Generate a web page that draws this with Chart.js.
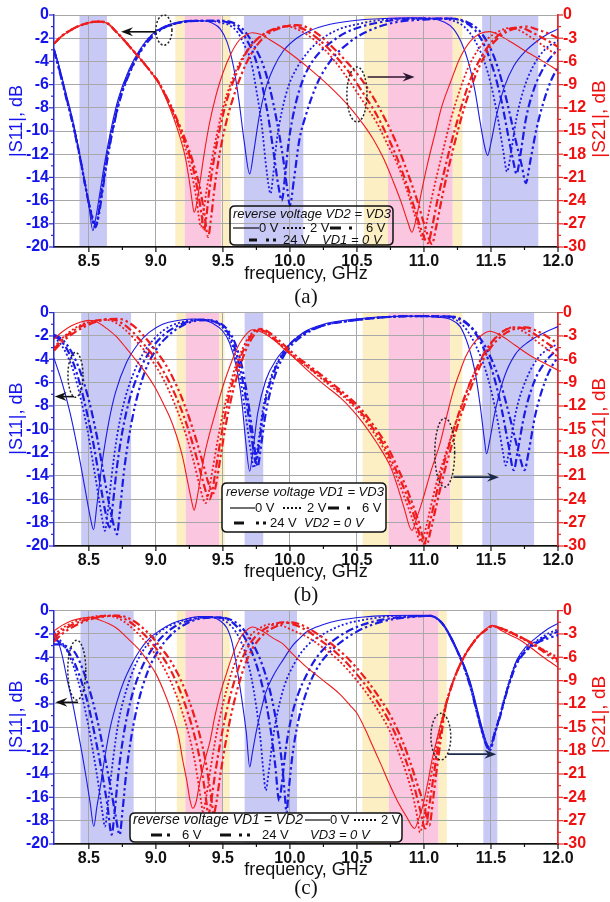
<!DOCTYPE html>
<html>
<head>
<meta charset="utf-8">
<script src="https://cdn.jsdelivr.net/npm/chart.js@4.4.1/dist/chart.umd.min.js"></script>
<style>
  html, body { margin: 0; padding: 0; background: #ffffff; }
  #wrap { position: relative; width: 610px; height: 902px; overflow: hidden; }
  #wrap canvas { position: absolute; left: 0; }
</style>
</head>
<body>
<div id="wrap">
  <canvas id="pa" width="610" height="312" style="top:0px"></canvas>
  <canvas id="pb" width="610" height="312" style="top:298px"></canvas>
  <canvas id="pc" width="610" height="306" style="top:596px"></canvas>
</div>
<script>
// ---- axis tick labels ----
const freqTicks = [8.5, 9.0, 9.5, 10.0, 10.5, 11.0, 11.5, 12.0];
const s11Ticks = [0, -2, -4, -6, -8, -10, -12, -14, -16, -18, -20];
const s21Ticks = [0, -3, -6, -9, -12, -15, -18, -21, -24, -27, -30];
const voltages = ['0 V', '2 V', '6 V', '24 V'];

// ---- (a) VD2 = VD3 swept, VD1 = 0 V : [frequency GHz, dB] ----
const a_S11_0V = [[8.24,-2.9],[8.28,-4.5],[8.33,-6.8],[8.38,-9.1],[8.43,-11.9],[8.47,-14.4],[8.50,-16.4],[8.53,-18.6],[8.55,-17.6],[8.58,-15.5],[8.62,-12.6],[8.67,-9.6],[8.72,-7.2],[8.80,-4.7],[8.88,-3.0],[8.97,-1.7],[9.06,-1.0],[9.15,-0.65],[9.25,-0.5],[9.35,-0.5],[9.42,-0.7],[9.48,-1.2],[9.53,-2.3],[9.58,-4.5],[9.62,-7.4],[9.66,-11.0],[9.70,-13.7],[9.73,-11.8],[9.77,-8.8],[9.82,-6.3],[9.88,-4.5],[9.95,-3.1],[10.05,-2.0],[10.15,-1.35],[10.3,-0.8],[10.5,-0.45],[10.7,-0.3],[10.9,-0.25],[11.05,-0.3],[11.15,-0.6],[11.22,-1.2],[11.28,-2.4],[11.33,-4.0],[11.38,-6.5],[11.42,-9.3],[11.45,-11.2],[11.475,-12.1],[11.50,-11.0],[11.54,-8.7],[11.60,-6.2],[11.67,-4.4],[11.75,-3.2],[11.85,-2.2],[11.93,-1.6],[12.0,-1.2]];
const a_S11_2V = [[8.24,-3.0],[8.28,-4.6],[8.33,-6.9],[8.38,-9.2],[8.43,-12.0],[8.47,-14.4],[8.51,-16.8],[8.545,-18.2],[8.56,-17.9],[8.59,-15.4],[8.63,-12.4],[8.68,-9.4],[8.73,-7.1],[8.81,-4.6],[8.89,-2.9],[8.98,-1.6],[9.07,-1.0],[9.17,-0.65],[9.28,-0.5],[9.40,-0.5],[9.48,-0.65],[9.55,-0.9],[9.61,-1.5],[9.66,-2.6],[9.71,-4.0],[9.75,-6.5],[9.79,-9.5],[9.82,-12.8],[9.845,-15.0],[9.855,-15.4],[9.875,-13.8],[9.9,-11.0],[9.94,-8.3],[9.99,-6.1],[10.05,-4.6],[10.12,-3.4],[10.2,-2.4],[10.35,-1.3],[10.5,-0.8],[10.7,-0.4],[10.9,-0.3],[11.1,-0.3],[11.22,-0.5],[11.3,-1.0],[11.38,-2.2],[11.45,-4.0],[11.5,-6.0],[11.55,-8.8],[11.59,-11.6],[11.62,-13.5],[11.65,-11.8],[11.69,-8.9],[11.75,-6.2],[11.82,-4.3],[11.9,-3.0],[12.0,-2.2]];
const a_S11_6V = [[8.24,-3.0],[8.28,-4.7],[8.33,-7.0],[8.38,-9.3],[8.43,-12.0],[8.47,-14.5],[8.51,-16.8],[8.55,-18.3],[8.57,-17.3],[8.60,-15.0],[8.64,-12.1],[8.69,-9.2],[8.74,-6.9],[8.82,-4.5],[8.9,-2.8],[8.99,-1.6],[9.08,-1.0],[9.18,-0.65],[9.3,-0.5],[9.45,-0.5],[9.55,-0.7],[9.62,-1.2],[9.68,-2.2],[9.74,-3.7],[9.79,-5.9],[9.84,-8.9],[9.88,-12.0],[9.915,-14.8],[9.94,-16.0],[9.96,-14.3],[9.99,-11.0],[10.04,-7.8],[10.1,-5.5],[10.18,-3.8],[10.28,-2.6],[10.42,-1.5],[10.6,-0.8],[10.8,-0.4],[11.0,-0.3],[11.2,-0.3],[11.3,-0.6],[11.38,-1.3],[11.45,-2.6],[11.52,-4.8],[11.58,-7.5],[11.63,-10.5],[11.67,-12.8],[11.69,-13.7],[11.72,-12.0],[11.76,-9.0],[11.82,-6.4],[11.9,-4.4],[12.0,-2.9]];
const a_S11_24V = [[8.24,-3.1],[8.28,-4.8],[8.33,-7.1],[8.38,-9.4],[8.43,-12.1],[8.47,-14.5],[8.51,-16.7],[8.555,-18.1],[8.575,-17.2],[8.60,-15.3],[8.64,-12.3],[8.69,-9.3],[8.74,-7.0],[8.82,-4.6],[8.9,-2.9],[8.99,-1.7],[9.08,-1.0],[9.18,-0.65],[9.3,-0.5],[9.5,-0.5],[9.6,-0.8],[9.67,-1.5],[9.74,-2.8],[9.8,-4.3],[9.85,-6.3],[9.9,-9.0],[9.95,-12.4],[9.98,-15.0],[10.0,-16.4],[10.03,-14.2],[10.07,-10.8],[10.12,-8.6],[10.2,-6.0],[10.3,-4.0],[10.45,-2.3],[10.6,-1.3],[10.8,-0.6],[11.0,-0.4],[11.2,-0.3],[11.32,-0.6],[11.4,-1.2],[11.48,-2.5],[11.55,-4.5],[11.62,-7.5],[11.68,-10.6],[11.73,-13.0],[11.76,-14.5],[11.79,-12.8],[11.84,-9.8],[11.9,-7.2],[11.95,-5.6],[12.0,-4.5]];
const a_S21_0V = [[8.24,-3.7],[8.3,-2.7],[8.38,-1.8],[8.46,-1.2],[8.53,-0.9],[8.58,-0.85],[8.64,-1.1],[8.7,-2.1],[8.76,-3.2],[8.83,-4.6],[8.9,-6.0],[8.96,-7.3],[9.02,-8.8],[9.08,-11.0],[9.13,-13.2],[9.18,-15.8],[9.22,-18.4],[9.25,-21.5],[9.27,-24.0],[9.285,-25.5],[9.3,-24.8],[9.33,-21.5],[9.36,-18.0],[9.4,-14.0],[9.45,-10.3],[9.5,-7.5],[9.56,-5.0],[9.62,-3.3],[9.68,-2.5],[9.72,-2.3],[9.78,-2.5],[9.85,-3.2],[9.95,-4.3],[10.05,-5.6],[10.15,-7.0],[10.3,-9.3],[10.45,-12.0],[10.55,-14.2],[10.62,-16.0],[10.7,-18.6],[10.77,-21.5],[10.83,-24.2],[10.88,-26.8],[10.91,-28.1],[10.94,-26.5],[10.98,-23.0],[11.03,-19.0],[11.08,-15.5],[11.13,-12.0],[11.2,-8.6],[11.27,-5.5],[11.35,-3.3],[11.42,-2.4],[11.49,-2.15],[11.57,-2.7],[11.65,-3.5],[11.75,-4.6],[11.88,-5.9],[12.0,-7.2]];
const a_S21_2V = [[8.24,-3.7],[8.3,-2.7],[8.38,-1.8],[8.46,-1.2],[8.53,-0.9],[8.58,-0.85],[8.64,-1.1],[8.7,-2.1],[8.76,-3.2],[8.83,-4.6],[8.9,-6.0],[8.96,-7.3],[9.02,-8.7],[9.08,-10.8],[9.13,-12.8],[9.18,-15.0],[9.22,-17.3],[9.26,-20.0],[9.3,-23.5],[9.32,-26.0],[9.335,-27.4],[9.35,-26.0],[9.38,-22.5],[9.42,-18.5],[9.46,-15.0],[9.5,-12.0],[9.56,-8.8],[9.63,-6.0],[9.7,-4.2],[9.78,-2.8],[9.86,-2.0],[9.93,-1.6],[9.98,-1.5],[10.05,-1.8],[10.15,-2.8],[10.25,-4.3],[10.35,-6.3],[10.45,-8.7],[10.55,-11.3],[10.65,-14.0],[10.73,-16.8],[10.8,-19.2],[10.87,-22.5],[10.93,-25.8],[10.97,-28.0],[10.99,-29.0],[11.02,-26.8],[11.06,-23.5],[11.1,-20.5],[11.15,-17.0],[11.2,-13.5],[11.27,-9.6],[11.33,-6.8],[11.4,-4.6],[11.48,-3.0],[11.56,-2.1],[11.63,-1.7],[11.7,-1.9],[11.8,-2.9],[11.9,-4.1],[12.0,-5.3]];
const a_S21_6V = [[8.24,-3.7],[8.3,-2.7],[8.38,-1.8],[8.46,-1.2],[8.53,-0.9],[8.58,-0.85],[8.64,-1.1],[8.7,-2.1],[8.76,-3.2],[8.83,-4.6],[8.9,-6.0],[8.96,-7.3],[9.02,-8.7],[9.08,-10.7],[9.13,-12.6],[9.18,-14.7],[9.23,-17.0],[9.28,-20.0],[9.32,-23.5],[9.345,-26.3],[9.36,-27.9],[9.375,-26.3],[9.4,-22.5],[9.44,-18.0],[9.48,-14.5],[9.53,-11.0],[9.6,-7.6],[9.67,-5.0],[9.75,-3.2],[9.83,-2.2],[9.92,-1.6],[10.0,-1.4],[10.07,-1.6],[10.15,-2.3],[10.25,-3.7],[10.35,-5.5],[10.45,-7.6],[10.55,-10.2],[10.65,-13.0],[10.73,-15.8],[10.8,-18.5],[10.87,-21.8],[10.93,-25.0],[10.98,-27.8],[11.03,-29.5],[11.06,-27.5],[11.1,-24.0],[11.15,-20.3],[11.2,-16.8],[11.26,-13.0],[11.32,-9.6],[11.38,-7.0],[11.45,-4.8],[11.53,-3.0],[11.62,-1.9],[11.72,-1.6],[11.8,-2.2],[11.9,-3.1],[12.0,-4.1]];
const a_S21_24V = [[8.24,-3.7],[8.3,-2.7],[8.38,-1.8],[8.46,-1.2],[8.53,-0.9],[8.58,-0.85],[8.64,-1.1],[8.7,-2.1],[8.76,-3.2],[8.83,-4.6],[8.9,-6.0],[8.96,-7.3],[9.02,-8.7],[9.08,-10.6],[9.13,-12.4],[9.18,-14.4],[9.23,-16.6],[9.28,-19.2],[9.33,-22.5],[9.36,-25.5],[9.39,-28.7],[9.41,-26.5],[9.44,-22.0],[9.48,-17.5],[9.53,-13.5],[9.6,-9.5],[9.67,-6.4],[9.75,-4.0],[9.84,-2.4],[9.94,-1.6],[10.05,-1.3],[10.13,-1.6],[10.22,-2.6],[10.32,-4.2],[10.42,-6.0],[10.52,-8.0],[10.62,-10.6],[10.72,-13.8],[10.8,-16.8],[10.88,-20.5],[10.95,-24.0],[11.01,-27.5],[11.06,-29.6],[11.09,-27.5],[11.13,-24.0],[11.18,-20.0],[11.23,-16.5],[11.29,-12.6],[11.35,-9.4],[11.42,-6.4],[11.5,-4.0],[11.58,-2.6],[11.67,-1.8],[11.76,-1.5],[11.85,-1.9],[11.93,-2.4],[12.0,-3.0]];

// ---- (b) VD1 = VD3 swept, VD2 = 0 V ----
const b_S11_0V = [[8.24,-3.9],[8.3,-6.0],[8.36,-8.6],[8.42,-11.9],[8.47,-15.0],[8.51,-17.5],[8.535,-18.6],[8.56,-16.5],[8.6,-12.8],[8.65,-9.3],[8.7,-6.8],[8.78,-4.3],[8.86,-2.8],[8.95,-1.7],[9.05,-1.0],[9.15,-0.7],[9.27,-0.55],[9.35,-0.6],[9.42,-0.9],[9.5,-1.6],[9.55,-2.6],[9.6,-4.6],[9.64,-7.5],[9.67,-11.0],[9.70,-13.6],[9.72,-12.2],[9.76,-8.6],[9.82,-5.8],[9.9,-4.0],[10.0,-2.7],[10.1,-1.7],[10.25,-1.0],[10.45,-0.6],[10.7,-0.35],[10.95,-0.3],[11.1,-0.4],[11.2,-0.6],[11.27,-1.2],[11.33,-2.8],[11.38,-5.0],[11.42,-8.0],[11.45,-10.8],[11.467,-12.1],[11.49,-11.0],[11.53,-8.5],[11.6,-5.5],[11.68,-3.6],[11.78,-2.5],[11.9,-1.7],[12.0,-1.2]];
const b_S11_2V = [[8.24,-2.1],[8.29,-2.7],[8.34,-3.7],[8.39,-5.2],[8.44,-7.4],[8.49,-10.1],[8.53,-12.8],[8.57,-15.6],[8.6,-17.7],[8.62,-18.7],[8.64,-17.2],[8.67,-14.0],[8.71,-10.6],[8.76,-7.8],[8.83,-5.3],[8.9,-3.6],[9.0,-2.1],[9.1,-1.2],[9.2,-0.8],[9.3,-0.6],[9.4,-0.7],[9.47,-1.0],[9.53,-1.8],[9.58,-3.2],[9.63,-5.7],[9.67,-8.8],[9.71,-12.0],[9.73,-13.3],[9.76,-11.5],[9.8,-8.2],[9.86,-5.5],[9.93,-3.8],[10.0,-2.7],[10.1,-1.8],[10.25,-1.1],[10.45,-0.7],[10.7,-0.4],[10.95,-0.3],[11.15,-0.35],[11.25,-0.7],[11.32,-1.5],[11.39,-2.9],[11.45,-4.6],[11.5,-6.6],[11.55,-9.3],[11.59,-12.0],[11.61,-13.1],[11.64,-11.5],[11.69,-8.3],[11.76,-5.8],[11.85,-3.9],[11.93,-3.1],[12.0,-2.7]];
const b_S11_6V = [[8.24,-2.0],[8.29,-2.4],[8.34,-3.2],[8.39,-4.5],[8.44,-6.4],[8.49,-8.8],[8.54,-11.6],[8.58,-14.3],[8.62,-16.9],[8.655,-18.4],[8.675,-16.8],[8.71,-13.2],[8.75,-10.2],[8.8,-7.6],[8.87,-5.2],[8.95,-3.4],[9.05,-2.0],[9.15,-1.2],[9.25,-0.75],[9.35,-0.6],[9.43,-0.75],[9.5,-1.2],[9.56,-2.2],[9.61,-3.9],[9.66,-6.6],[9.7,-9.5],[9.73,-12.0],[9.745,-12.9],[9.77,-11.3],[9.81,-8.0],[9.87,-5.4],[9.94,-3.7],[10.0,-2.7],[10.1,-1.8],[10.25,-1.1],[10.45,-0.7],[10.7,-0.4],[10.95,-0.3],[11.2,-0.35],[11.3,-0.8],[11.38,-1.7],[11.45,-3.2],[11.52,-5.4],[11.58,-8.3],[11.63,-11.3],[11.67,-13.5],[11.7,-11.8],[11.75,-8.7],[11.82,-6.0],[11.9,-4.3],[12.0,-3.1]];
const b_S11_24V = [[8.24,-1.9],[8.29,-2.2],[8.34,-2.8],[8.39,-3.8],[8.44,-5.2],[8.5,-7.5],[8.56,-10.6],[8.61,-13.8],[8.66,-16.9],[8.69,-18.4],[8.71,-19.0],[8.73,-17.2],[8.76,-13.8],[8.8,-10.6],[8.85,-7.7],[8.92,-5.0],[9.0,-3.2],[9.1,-1.9],[9.2,-1.1],[9.3,-0.7],[9.4,-0.65],[9.47,-0.85],[9.53,-1.4],[9.59,-2.6],[9.64,-4.5],[9.68,-7.0],[9.72,-10.2],[9.745,-12.3],[9.76,-13.2],[9.78,-11.8],[9.82,-8.6],[9.88,-5.7],[9.95,-3.8],[10.02,-2.7],[10.12,-1.8],[10.25,-1.1],[10.45,-0.7],[10.7,-0.4],[10.95,-0.3],[11.22,-0.35],[11.32,-0.9],[11.42,-2.2],[11.5,-3.9],[11.57,-6.0],[11.63,-8.5],[11.68,-10.8],[11.72,-12.6],[11.75,-13.5],[11.78,-12.0],[11.83,-8.8],[11.9,-6.0],[11.95,-4.7],[12.0,-3.8]];
const b_S21_0V = [[8.24,-3.4],[8.3,-2.5],[8.37,-1.7],[8.44,-1.2],[8.5,-1.0],[8.56,-1.2],[8.63,-2.0],[8.7,-3.0],[8.78,-4.6],[8.86,-6.3],[8.93,-7.9],[8.99,-9.5],[9.05,-11.5],[9.1,-13.3],[9.15,-15.6],[9.2,-18.6],[9.24,-22.0],[9.27,-24.5],[9.285,-25.4],[9.3,-24.5],[9.33,-21.5],[9.36,-18.5],[9.4,-15.6],[9.45,-12.5],[9.5,-9.5],[9.55,-7.0],[9.6,-4.8],[9.65,-3.3],[9.72,-2.2],[9.8,-2.6],[9.9,-3.8],[9.97,-4.9],[10.05,-6.1],[10.13,-7.4],[10.25,-9.2],[10.38,-11.0],[10.47,-12.6],[10.55,-14.3],[10.65,-16.8],[10.75,-19.8],[10.8,-22.2],[10.85,-25.0],[10.91,-28.0],[10.95,-26.2],[10.99,-24.1],[11.05,-20.5],[11.12,-16.8],[11.17,-13.3],[11.22,-10.0],[11.27,-7.5],[11.31,-5.7],[11.36,-4.2],[11.41,-3.2],[11.49,-2.4],[11.58,-3.0],[11.68,-4.2],[11.8,-5.6],[11.9,-6.5],[12.0,-7.4]];
const b_S21_2V = [[8.24,-4.5],[8.3,-3.3],[8.37,-2.3],[8.45,-1.5],[8.53,-1.1],[8.62,-0.9],[8.7,-1.3],[8.77,-2.2],[8.85,-3.6],[8.93,-5.2],[9.0,-6.9],[9.06,-8.7],[9.12,-10.9],[9.18,-13.5],[9.23,-16.0],[9.28,-19.0],[9.32,-21.8],[9.35,-23.8],[9.37,-24.5],[9.39,-23.5],[9.42,-20.5],[9.46,-16.5],[9.5,-13.0],[9.55,-9.5],[9.6,-6.6],[9.65,-4.5],[9.7,-3.0],[9.75,-2.2],[9.82,-2.6],[9.9,-3.7],[9.97,-4.8],[10.05,-6.0],[10.13,-7.0],[10.25,-8.7],[10.38,-10.5],[10.5,-12.5],[10.6,-14.8],[10.7,-17.5],[10.78,-20.5],[10.85,-23.5],[10.92,-26.8],[10.98,-29.5],[11.01,-28.0],[11.05,-25.0],[11.1,-21.5],[11.17,-17.7],[11.22,-15.0],[11.27,-12.6],[11.34,-9.2],[11.42,-6.2],[11.5,-4.0],[11.57,-2.7],[11.66,-1.9],[11.75,-2.5],[11.85,-3.8],[11.93,-4.8],[12.0,-5.7]];
const b_S21_6V = [[8.24,-4.7],[8.3,-3.5],[8.37,-2.5],[8.45,-1.7],[8.54,-1.1],[8.66,-0.85],[8.74,-1.3],[8.81,-2.2],[8.88,-3.5],[8.96,-5.1],[9.03,-6.8],[9.09,-8.6],[9.15,-10.8],[9.21,-13.4],[9.26,-16.0],[9.31,-19.0],[9.35,-21.6],[9.38,-23.4],[9.40,-24.0],[9.42,-23.0],[9.45,-19.8],[9.49,-15.6],[9.53,-12.0],[9.58,-8.5],[9.63,-5.8],[9.68,-3.9],[9.72,-2.7],[9.76,-2.1],[9.83,-2.6],[9.9,-3.6],[9.97,-4.7],[10.05,-5.9],[10.13,-6.9],[10.25,-8.5],[10.38,-10.3],[10.5,-12.2],[10.6,-14.4],[10.7,-17.0],[10.78,-19.8],[10.86,-23.0],[10.93,-26.3],[11.0,-29.7],[11.03,-28.0],[11.07,-25.0],[11.12,-21.3],[11.18,-17.5],[11.24,-14.0],[11.3,-11.0],[11.37,-8.0],[11.45,-5.2],[11.53,-3.3],[11.61,-2.2],[11.7,-1.9],[11.8,-2.5],[11.9,-3.7],[12.0,-4.9]];
const b_S21_24V = [[8.24,-4.9],[8.3,-3.8],[8.38,-2.7],[8.47,-1.8],[8.57,-1.1],[8.72,-0.8],[8.79,-1.2],[8.86,-2.1],[8.93,-3.4],[9.0,-4.9],[9.07,-6.6],[9.13,-8.5],[9.19,-10.8],[9.25,-13.6],[9.3,-16.3],[9.35,-19.3],[9.39,-21.8],[9.415,-22.9],[9.43,-23.2],[9.45,-22.0],[9.48,-18.8],[9.52,-14.6],[9.56,-11.2],[9.61,-7.9],[9.66,-5.3],[9.71,-3.5],[9.75,-2.5],[9.78,-2.1],[9.85,-2.6],[9.92,-3.6],[9.99,-4.7],[10.07,-5.9],[10.15,-6.9],[10.27,-8.5],[10.4,-10.3],[10.52,-12.2],[10.62,-14.4],[10.72,-17.0],[10.8,-19.8],[10.88,-23.0],[10.95,-26.3],[11.02,-29.8],[11.05,-28.0],[11.09,-25.0],[11.14,-21.3],[11.2,-17.5],[11.26,-14.0],[11.32,-11.0],[11.39,-8.0],[11.47,-5.2],[11.56,-3.3],[11.66,-2.2],[11.76,-1.9],[11.85,-2.4],[11.93,-3.2],[12.0,-4.0]];

// ---- (c) VD1 = VD2 swept, VD3 = 0 V ----
const c_S11_0V = [[8.24,-1.7],[8.27,-2.6],[8.3,-3.8],[8.34,-6.0],[8.38,-8.0],[8.41,-9.8],[8.45,-12.3],[8.48,-14.3],[8.51,-16.5],[8.537,-18.5],[8.56,-16.8],[8.587,-15.0],[8.62,-12.5],[8.66,-10.0],[8.71,-7.8],[8.76,-6.1],[8.82,-4.6],[8.88,-3.4],[8.95,-2.4],[9.03,-1.7],[9.12,-1.1],[9.23,-0.7],[9.32,-0.5],[9.4,-0.5],[9.47,-0.8],[9.53,-1.5],[9.57,-2.8],[9.6,-4.6],[9.64,-7.5],[9.675,-10.5],[9.70,-13.4],[9.72,-12.2],[9.75,-10.3],[9.79,-8.3],[9.82,-7.0],[9.88,-5.5],[9.95,-4.2],[10.02,-3.0],[10.07,-2.4],[10.12,-1.85],[10.25,-1.2],[10.36,-0.85],[10.55,-0.55],[10.73,-0.43],[10.95,-0.4],[11.05,-0.45],[11.1,-0.7],[11.15,-1.3],[11.2,-2.2],[11.25,-3.4],[11.3,-4.7],[11.35,-6.3],[11.41,-9.0],[11.46,-11.1],[11.49,-11.8],[11.53,-10.5],[11.57,-9.0],[11.6,-7.7],[11.65,-5.7],[11.69,-4.3],[11.76,-3.1],[11.84,-2.3],[11.92,-1.6],[12.0,-1.1]];
const c_S11_2V = [[8.24,-2.0],[8.29,-2.6],[8.34,-3.5],[8.39,-4.9],[8.44,-6.9],[8.49,-9.5],[8.53,-12.0],[8.57,-14.8],[8.6,-17.2],[8.62,-18.5],[8.645,-16.3],[8.68,-12.8],[8.72,-9.6],[8.78,-6.8],[8.85,-4.6],[8.93,-3.0],[9.02,-1.9],[9.12,-1.2],[9.23,-0.75],[9.35,-0.55],[9.45,-0.6],[9.53,-1.0],[9.6,-1.9],[9.66,-3.4],[9.71,-5.6],[9.75,-8.3],[9.78,-11.0],[9.8,-13.5],[9.82,-15.4],[9.84,-14.0],[9.87,-11.2],[9.91,-8.6],[9.96,-6.4],[10.03,-4.6],[10.12,-3.1],[10.25,-2.0],[10.4,-1.2],[10.6,-0.7],[10.8,-0.45],[11.05,-0.45],[11.1,-0.7],[11.15,-1.3],[11.2,-2.3],[11.25,-3.5],[11.3,-4.8],[11.35,-6.5],[11.41,-9.2],[11.46,-11.2],[11.49,-11.7],[11.53,-10.3],[11.57,-8.8],[11.6,-7.5],[11.65,-5.6],[11.69,-4.4],[11.76,-3.3],[11.84,-2.6],[11.92,-2.0],[12.0,-1.6]];
const c_S11_6V = [[8.24,-2.4],[8.29,-2.8],[8.34,-3.4],[8.39,-4.4],[8.44,-5.9],[8.5,-8.3],[8.55,-11.0],[8.6,-14.0],[8.64,-16.8],[8.67,-19.2],[8.69,-17.5],[8.72,-14.0],[8.76,-10.6],[8.81,-7.8],[8.88,-5.3],[8.96,-3.5],[9.05,-2.2],[9.15,-1.3],[9.26,-0.8],[9.38,-0.55],[9.48,-0.6],[9.57,-1.0],[9.64,-1.9],[9.71,-3.4],[9.77,-5.4],[9.82,-7.8],[9.86,-10.5],[9.89,-13.2],[9.92,-16.3],[9.94,-14.8],[9.97,-11.8],[10.01,-9.2],[10.06,-7.2],[10.12,-5.6],[10.2,-4.0],[10.32,-2.6],[10.5,-1.4],[10.7,-0.75],[10.9,-0.5],[11.05,-0.45],[11.1,-0.7],[11.15,-1.3],[11.2,-2.3],[11.25,-3.5],[11.3,-4.8],[11.35,-6.6],[11.41,-9.3],[11.46,-11.3],[11.49,-11.9],[11.53,-10.4],[11.57,-8.9],[11.6,-7.6],[11.65,-5.7],[11.69,-4.5],[11.76,-3.4],[11.84,-2.7],[11.92,-2.2],[12.0,-1.8]];
const c_S11_24V = [[8.24,-2.9],[8.29,-2.9],[8.34,-3.1],[8.39,-3.5],[8.44,-4.6],[8.5,-6.6],[8.56,-9.2],[8.61,-12.0],[8.66,-15.0],[8.7,-17.6],[8.73,-19.2],[8.75,-17.3],[8.78,-13.8],[8.82,-10.6],[8.87,-7.8],[8.94,-5.2],[9.02,-3.4],[9.12,-2.0],[9.23,-1.1],[9.35,-0.65],[9.48,-0.6],[9.58,-0.9],[9.66,-1.7],[9.74,-3.2],[9.81,-5.2],[9.87,-7.8],[9.91,-10.4],[9.94,-13.0],[9.96,-15.5],[9.975,-17.3],[9.99,-15.5],[10.02,-12.3],[10.06,-9.6],[10.12,-7.1],[10.2,-5.0],[10.32,-3.3],[10.5,-1.8],[10.7,-0.9],[10.9,-0.55],[11.05,-0.45],[11.1,-0.7],[11.15,-1.3],[11.2,-2.3],[11.25,-3.5],[11.3,-4.9],[11.35,-6.7],[11.41,-9.4],[11.46,-11.4],[11.49,-12.0],[11.53,-10.5],[11.57,-9.0],[11.6,-7.7],[11.65,-5.8],[11.69,-4.6],[11.76,-3.5],[11.84,-2.8],[11.92,-2.4],[12.0,-2.1]];
const c_S21_0V = [[8.24,-2.6],[8.3,-1.9],[8.37,-1.3],[8.44,-1.0],[8.51,-0.86],[8.58,-1.2],[8.65,-1.7],[8.71,-2.3],[8.78,-3.4],[8.84,-4.4],[8.88,-5.1],[8.94,-6.5],[9.0,-8.1],[9.06,-10.4],[9.13,-13.7],[9.17,-16.2],[9.2,-19.2],[9.23,-21.8],[9.255,-24.4],[9.275,-25.4],[9.3,-24.6],[9.33,-21.8],[9.37,-19.0],[9.405,-16.7],[9.44,-13.6],[9.48,-10.7],[9.53,-7.9],[9.575,-5.6],[9.62,-3.8],[9.65,-3.0],[9.72,-2.1],[9.8,-2.7],[9.88,-3.6],[9.95,-4.3],[10.01,-5.4],[10.07,-6.4],[10.12,-7.2],[10.25,-9.0],[10.37,-10.7],[10.45,-12.2],[10.5,-13.2],[10.56,-15.2],[10.62,-17.5],[10.68,-19.8],[10.74,-22.2],[10.8,-24.4],[10.87,-26.5],[10.93,-28.0],[10.96,-26.8],[10.99,-25.2],[11.03,-22.0],[11.06,-19.2],[11.1,-16.3],[11.14,-13.7],[11.18,-11.3],[11.21,-9.4],[11.26,-7.3],[11.31,-5.6],[11.36,-4.3],[11.4,-3.4],[11.46,-2.4],[11.51,-1.9],[11.58,-2.6],[11.65,-3.2],[11.72,-3.8],[11.8,-4.8],[11.9,-6.1],[12.0,-7.3]];
const c_S21_2V = [[8.24,-3.1],[8.3,-2.3],[8.37,-1.6],[8.45,-1.1],[8.54,-0.75],[8.64,-0.65],[8.72,-1.0],[8.8,-1.9],[8.88,-3.2],[8.95,-4.6],[9.02,-6.2],[9.08,-8.0],[9.14,-10.3],[9.2,-13.2],[9.25,-16.2],[9.29,-19.3],[9.32,-22.5],[9.34,-24.8],[9.35,-25.8],[9.37,-24.5],[9.4,-21.2],[9.44,-17.0],[9.48,-13.5],[9.53,-10.0],[9.58,-7.2],[9.64,-4.9],[9.7,-3.3],[9.78,-2.2],[9.87,-1.7],[9.95,-2.0],[10.03,-2.6],[10.12,-3.3],[10.25,-4.8],[10.37,-6.5],[10.5,-9.0],[10.62,-11.8],[10.74,-15.3],[10.82,-18.6],[10.87,-21.0],[10.92,-24.0],[10.95,-26.5],[10.97,-28.5],[11.0,-26.5],[11.04,-22.5],[11.08,-18.5],[11.12,-15.0],[11.16,-12.3],[11.2,-10.0],[11.25,-7.7],[11.31,-5.6],[11.36,-4.3],[11.4,-3.4],[11.46,-2.5],[11.51,-2.0],[11.58,-2.4],[11.65,-2.9],[11.72,-3.5],[11.8,-4.2],[11.9,-5.1],[12.0,-6.0]];
const c_S21_6V = [[8.24,-3.5],[8.3,-2.6],[8.38,-1.8],[8.47,-1.2],[8.57,-0.8],[8.68,-0.65],[8.76,-1.0],[8.84,-1.9],[8.92,-3.2],[8.99,-4.6],[9.06,-6.2],[9.12,-8.0],[9.18,-10.3],[9.24,-13.2],[9.29,-16.2],[9.33,-19.3],[9.36,-22.5],[9.38,-25.0],[9.39,-26.3],[9.41,-24.8],[9.44,-21.2],[9.48,-17.0],[9.52,-13.5],[9.57,-10.0],[9.62,-7.2],[9.68,-4.9],[9.75,-3.2],[9.85,-2.0],[9.95,-1.5],[10.03,-1.8],[10.12,-2.5],[10.25,-4.1],[10.37,-5.8],[10.5,-8.2],[10.62,-10.9],[10.74,-14.2],[10.82,-17.2],[10.88,-20.0],[10.93,-22.8],[10.97,-25.5],[11.01,-28.0],[11.04,-25.0],[11.07,-21.5],[11.1,-18.0],[11.13,-15.0],[11.16,-12.3],[11.2,-10.0],[11.25,-7.7],[11.31,-5.6],[11.36,-4.3],[11.4,-3.4],[11.46,-2.5],[11.51,-2.0],[11.58,-2.3],[11.65,-2.8],[11.72,-3.4],[11.8,-4.1],[11.9,-5.2],[12.0,-6.3]];
const c_S21_24V = [[8.24,-4.0],[8.3,-3.0],[8.38,-2.1],[8.48,-1.3],[8.6,-0.8],[8.72,-0.65],[8.8,-1.0],[8.88,-1.9],[8.96,-3.2],[9.03,-4.6],[9.1,-6.2],[9.16,-8.0],[9.22,-10.3],[9.28,-13.2],[9.33,-16.2],[9.37,-19.3],[9.4,-22.5],[9.42,-25.0],[9.43,-26.2],[9.45,-24.8],[9.48,-21.2],[9.52,-17.0],[9.56,-13.5],[9.61,-10.0],[9.66,-7.2],[9.72,-4.9],[9.8,-3.1],[9.9,-2.0],[10.0,-1.5],[10.08,-1.8],[10.16,-2.5],[10.28,-3.9],[10.4,-5.6],[10.52,-7.8],[10.64,-10.5],[10.76,-13.8],[10.84,-16.8],[10.9,-19.6],[10.95,-22.3],[11.0,-25.0],[11.04,-27.6],[11.07,-24.0],[11.1,-19.8],[11.13,-16.0],[11.16,-12.5],[11.2,-10.0],[11.25,-7.7],[11.31,-5.6],[11.36,-4.3],[11.4,-3.4],[11.46,-2.5],[11.51,-2.0],[11.58,-2.3],[11.65,-2.8],[11.72,-3.4],[11.8,-4.2],[11.9,-5.4],[12.0,-6.6]];

// ---- shaded frequency bands [from GHz, to GHz, kind] ----
const bandsA = [[8.43,8.635,'blue'],[9.145,9.215,'yellow'],[9.215,9.488,'pink'],[9.488,9.557,'yellow'],[9.657,10.10,'blue'],[10.552,10.731,'yellow'],[10.731,11.215,'pink'],[11.215,11.287,'yellow'],[11.434,11.853,'blue']];
const bandsB = [[8.443,8.815,'blue'],[9.154,9.223,'yellow'],[9.223,9.472,'pink'],[9.472,9.513,'yellow'],[9.662,9.801,'blue'],[10.542,10.736,'yellow'],[10.736,11.196,'pink'],[11.196,11.287,'yellow'],[11.435,11.822,'blue']];
const bandsC = [[8.438,8.834,'blue'],[9.156,9.220,'yellow'],[9.220,9.501,'pink'],[9.501,9.551,'yellow'],[9.662,10.053,'blue'],[10.540,10.738,'yellow'],[10.738,11.109,'pink'],[11.109,11.170,'yellow'],[11.443,11.547,'blue']];

// ---- styling ----
const FONT = '"Liberation Sans", Arial, sans-serif';
const SERIF = '"Liberation Serif", "Times New Roman", serif';
const BLUE = '#1b1be6';
const RED = '#f01b1b';
const AXIS_BLUE = '#2a2ad6';
const AXIS_RED = '#ee2626';
const LABEL_BLUE = '#1414f0';
const LABEL_RED = '#f01010';
const GRID = '#a8a8a8';
const BAND_FILL = { blue: '#c9c9f6', yellow: '#fcefc4', pink: '#fbc6e0' };
const STYLES = [
  { width: 1.1, dash: [] },
  { width: 1.8, dash: [2, 2.2] },
  { width: 2.2, dash: [8, 3, 2.4, 3] },
  { width: 2.2, dash: [8, 3, 2.4, 3, 2.4, 3] }
];
const X_MIN = 8.24, X_MAX = 12.0;

function toXY(pairs) { return pairs.map(p => ({ x: p[0], y: p[1] })); }

function buildDatasets(s11, s21) {
  const common = { showLine: true, pointRadius: 0, pointHoverRadius: 0, fill: false,
    cubicInterpolationMode: 'monotone', borderCapStyle: 'butt', borderJoinStyle: 'round' };
  const ds = [];
  for (let i = 3; i >= 0; i--) {
    ds.push(Object.assign({ label: '|S21| ' + voltages[i], data: toXY(s21[i]), yAxisID: 'y2',
      borderColor: RED, borderWidth: STYLES[i].width, borderDash: STYLES[i].dash }, common));
  }
  for (let i = 3; i >= 0; i--) {
    ds.push(Object.assign({ label: '|S11| ' + voltages[i], data: toXY(s11[i]), yAxisID: 'y',
      borderColor: BLUE, borderWidth: STYLES[i].width, borderDash: STYLES[i].dash }, common));
  }
  return ds;
}

function seg(ctx, x1, y1, x2, y2) { ctx.beginPath(); ctx.moveTo(x1, y1); ctx.lineTo(x2, y2); ctx.stroke(); }

function drawLegend(ctx, L) {
  const [x1, y1, x2, y2] = L.box;
  const r = 5;
  ctx.save();
  ctx.setLineDash([]);
  ctx.beginPath();
  ctx.moveTo(x1 + r, y1); ctx.lineTo(x2 - r, y1); ctx.quadraticCurveTo(x2, y1, x2, y1 + r);
  ctx.lineTo(x2, y2 - r); ctx.quadraticCurveTo(x2, y2, x2 - r, y2);
  ctx.lineTo(x1 + r, y2); ctx.quadraticCurveTo(x1, y2, x1, y2 - r);
  ctx.lineTo(x1, y1 + r); ctx.quadraticCurveTo(x1, y1, x1 + r, y1);
  ctx.closePath();
  if (L.fill) { ctx.fillStyle = '#ffffff'; ctx.fill(); }
  ctx.strokeStyle = '#111'; ctx.lineWidth = 1.5; ctx.stroke();
  ctx.fillStyle = '#111'; ctx.strokeStyle = '#111';
  ctx.textBaseline = 'middle'; ctx.textAlign = 'left';
  L.items.forEach(it => {
    if (it[0] === 'text') {
      ctx.font = (it[4] ? 'italic ' : '') + (it[5] || L.size) + 'px ' + FONT;
      ctx.fillText(it[3], it[1], it[2]);
    } else {
      const kind = it[4];
      ctx.setLineDash(kind === 'dot' ? [2, 2] : []);
      ctx.lineWidth = kind === 'solid' ? 1.2 : (kind === 'dot' ? 2 : 3);
      seg(ctx, it[1], it[3], it[2], it[3]);
      ctx.setLineDash([]);
    }
  });
  ctx.restore();
}

function drawEllipse(ctx, x, y, e) {
  const [f, db, rf, rdb] = e;
  const cx = x.getPixelForValue(f), cy = y.getPixelForValue(db);
  const rx = Math.abs(x.getPixelForValue(f + rf) - cx), ry = Math.abs(y.getPixelForValue(db + rdb) - cy);
  ctx.save();
  ctx.setLineDash([2, 2]); ctx.lineWidth = 1.5; ctx.strokeStyle = '#222';
  ctx.beginPath(); ctx.ellipse(cx, cy, rx, ry, 0, 0, Math.PI * 2); ctx.stroke();
  ctx.restore();
}

function drawArrow(ctx, x, y, a) {
  const [f1, f2, db, color] = a;
  const x1 = x.getPixelForValue(f1), x2 = x.getPixelForValue(f2), py = y.getPixelForValue(db);
  const d = Math.sign(x2 - x1);
  ctx.save();
  ctx.setLineDash([]); ctx.strokeStyle = color; ctx.fillStyle = color; ctx.lineWidth = 1.6;
  seg(ctx, x1, py, x2 - d * 6, py);
  ctx.beginPath();
  ctx.moveTo(x2, py); ctx.lineTo(x2 - d * 12, py - 4.5); ctx.lineTo(x2 - d * 8, py); ctx.lineTo(x2 - d * 12, py + 4.5);
  ctx.closePath(); ctx.fill();
  ctx.restore();
}

function makePanel(id, P) {
  const canvas = document.getElementById(id);
  const H = canvas.height;
  const tickFont = { family: FONT, size: 16, weight: 'bold' };

  const bandsPlugin = {
    id: 'bands_' + id,
    beforeDraw(chart) {
      const { ctx, chartArea: a, scales: { x } } = chart;
      ctx.save();
      P.bands.forEach(([f1, f2, kind]) => {
        const x1 = x.getPixelForValue(f1), x2 = x.getPixelForValue(f2);
        ctx.fillStyle = BAND_FILL[kind];
        ctx.fillRect(x1, a.top, x2 - x1, a.bottom - a.top);
      });
      ctx.restore();
    }
  };

  const overlayPlugin = {
    id: 'overlay_' + id,
    afterDatasetsDraw(chart) {
      const { ctx, scales: { x, y } } = chart;
      P.ellipses.forEach(e => drawEllipse(ctx, x, y, e));
      P.arrows.forEach(a => drawArrow(ctx, x, y, a));
      drawLegend(ctx, P.legend);
    },
    afterDraw(chart) {
      const { ctx, chartArea: { left, right, top, bottom }, scales: { x, y, y2 } } = chart;
      ctx.save();
      ctx.setLineDash([]);
      ctx.lineWidth = 1.2;
      // left axis tick marks (major every 2 dB, minor between)
      ctx.strokeStyle = AXIS_BLUE;
      s11Ticks.forEach((v, i) => {
        const p = y.getPixelForValue(v); seg(ctx, left - 5, p, left, p);
        if (i < s11Ticks.length - 1) { const m = y.getPixelForValue((v + s11Ticks[i + 1]) / 2); seg(ctx, left - 3, m, left, m); }
      });
      // right axis tick marks
      ctx.strokeStyle = AXIS_RED;
      s21Ticks.forEach((v, i) => {
        const p = y2.getPixelForValue(v); seg(ctx, right, p, right + 5, p);
        if (i < s21Ticks.length - 1) { const m = y2.getPixelForValue((v + s21Ticks[i + 1]) / 2); seg(ctx, right, m, right + 3, m); }
      });
      // frequency axis tick marks
      ctx.strokeStyle = '#111';
      freqTicks.forEach((v, i) => {
        const p = x.getPixelForValue(v); seg(ctx, p, bottom, p, bottom + 5);
        if (i < freqTicks.length - 1) { const m = x.getPixelForValue((v + freqTicks[i + 1]) / 2); seg(ctx, m, bottom, m, bottom + 3); }
      });
      // axis titles
      ctx.textAlign = 'center'; ctx.textBaseline = 'middle';
      ctx.fillStyle = LABEL_BLUE; ctx.font = '18px ' + FONT;
      ctx.save(); ctx.translate(17, top + 106); ctx.rotate(-Math.PI / 2); ctx.fillText('|S11|, dB', 0, 0); ctx.restore();
      ctx.fillStyle = LABEL_RED; ctx.font = '19px ' + FONT;
      ctx.save(); ctx.translate(600, top + 104); ctx.rotate(-Math.PI / 2); ctx.fillText('|S21|, dB', 0, 0); ctx.restore();
      // panel letter
      ctx.fillStyle = '#111'; ctx.font = '21px ' + SERIF;
      ctx.fillText(P.letter, 306, P.letterY);
      ctx.restore();
    }
  };

  return new Chart(canvas.getContext('2d'), {
    type: 'scatter',
    data: { datasets: buildDatasets(P.s11, P.s21) },
    options: {
      responsive: false, animation: false, devicePixelRatio: 1, events: [],
      layout: { padding: { top: P.top, left: 0, right: 0, bottom: 0 } },
      plugins: { legend: { display: false }, tooltip: { enabled: false } },
      scales: {
        x: {
          type: 'linear', position: 'bottom', min: X_MIN, max: X_MAX, bounds: 'data',
          afterBuildTicks: s => { s.ticks = freqTicks.map(v => ({ value: v })); },
          afterFit: s => { s.height = H - P.bottom; },
          grid: { color: GRID, lineWidth: 1, drawTicks: false },
          border: { color: '#111', width: 1.5 },
          ticks: { autoSkip: false, maxRotation: 0, padding: 5, color: '#111', font: tickFont,
                   callback: v => Number(v).toFixed(1) },
          title: { display: true, text: 'frequency, GHz', color: '#111',
                   font: { family: FONT, size: 18 }, padding: { top: 0, bottom: H - P.titleY - 10.8 } }
        },
        y: {
          type: 'linear', position: 'left', min: -20, max: 0, bounds: 'data',
          afterBuildTicks: s => { s.ticks = s11Ticks.map(v => ({ value: v })); },
          afterFit: s => { s.width = 54; },
          grid: { color: GRID, lineWidth: 1, drawTicks: false },
          border: { color: AXIS_BLUE, width: 1.5 },
          ticks: { autoSkip: false, padding: 5, color: LABEL_BLUE, font: tickFont, callback: v => String(v) }
        },
        y2: {
          type: 'linear', position: 'right', min: -30, max: 0, bounds: 'data',
          afterBuildTicks: s => { s.ticks = s21Ticks.map(v => ({ value: v })); },
          afterFit: s => { s.width = 52; },
          grid: { display: false, drawTicks: false },
          border: { color: AXIS_RED, width: 1.5 },
          ticks: { autoSkip: false, padding: 5, color: LABEL_RED, font: tickFont, callback: v => String(v) }
        }
      }
    },
    plugins: [bandsPlugin, overlayPlugin]
  });
}

makePanel('pa', {
  top: 15, bottom: 247, titleY: 274, letter: '(a)', letterY: 297,
  s11: [a_S11_0V, a_S11_2V, a_S11_6V, a_S11_24V],
  s21: [a_S21_0V, a_S21_2V, a_S21_6V, a_S21_24V],
  bands: bandsA,
  ellipses: [[9.06, -1.3, 0.06, 1.3], [10.5, -6.85, 0.075, 2.37]],
  arrows: [[9.0, 8.74, -1.45, '#111'], [10.58, 10.93, -5.35, '#2d1630']],
  legend: { box: [230, 206, 393, 245], fill: false, size: 13, items: [
    ['text', 233, 214, 'reverse voltage VD2 = VD3', true],
    ['line', 233, 259, 228, 'solid'], ['text', 259, 228, '0 V', false],
    ['line', 283, 306, 228, 'dot'], ['text', 310, 228, '2 V', false],
    ['line', 330, 341, 228, 'bar'], ['line', 349, 352, 228, 'bar'], ['text', 366, 228, '6 V', false],
    ['line', 249, 257, 240, 'bar'], ['line', 266, 269, 240, 'bar'], ['line', 273, 276, 240, 'bar'],
    ['text', 283, 240, '24 V', false], ['text', 322, 240, 'VD1 = 0 V', true]
  ] }
});

makePanel('pb', {
  top: 14, bottom: 248, titleY: 274, letter: '(b)', letterY: 297,
  s11: [b_S11_0V, b_S11_2V, b_S11_6V, b_S11_24V],
  s21: [b_S21_0V, b_S21_2V, b_S21_6V, b_S21_24V],
  bands: bandsB,
  ellipses: [[8.40, -5.34, 0.056, 1.92], [11.155, -12.0, 0.074, 2.95]],
  arrows: [[8.39, 8.245, -7.2, '#111'], [11.22, 11.56, -14.1, '#1c2a48']],
  legend: { box: [222, 185, 386, 234], fill: true, size: 13, items: [
    ['text', 226, 194, 'reverse voltage VD1 = VD3', true],
    ['line', 230, 255, 210, 'solid'], ['text', 255, 210, '0 V', false],
    ['line', 283, 301, 210, 'dot'], ['text', 307, 210, '2 V', false],
    ['line', 328, 339, 210, 'bar'], ['line', 347, 350, 210, 'bar'], ['text', 362, 210, '6 V', false],
    ['line', 234, 244, 225, 'bar'], ['line', 256, 259, 225, 'bar'], ['line', 263, 266, 225, 'bar'],
    ['text', 270, 225, '24 V', false], ['text', 304, 225, 'VD2 = 0 V', true]
  ] }
});

makePanel('pc', {
  top: 14, bottom: 248, titleY: 274, letter: '(c)', letterY: 292,
  s11: [c_S11_0V, c_S11_2V, c_S11_6V, c_S11_24V],
  s21: [c_S21_0V, c_S21_2V, c_S21_6V, c_S21_24V],
  bands: bandsC,
  ellipses: [[8.41, -5.1, 0.067, 2.56], [11.126, -10.8, 0.074, 2.0]],
  arrows: [[8.42, 8.25, -7.86, '#111'], [11.18, 11.54, -12.3, '#1c2a48']],
  legend: { box: [130, 217, 402, 246], fill: true, size: 13, items: [
    ['text', 133, 224, 'reverse voltage VD1 = VD2', true, 14],
    ['line', 305, 330, 224, 'solid'], ['text', 330, 224, '0 V', false],
    ['line', 354, 377, 224, 'dot'], ['text', 381, 224, '2 V', false],
    ['line', 151, 162, 239, 'bar'], ['line', 167, 170, 239, 'bar'], ['text', 182, 239, '6 V', false],
    ['line', 220, 231, 239, 'bar'], ['line', 239, 242, 239, 'bar'], ['line', 247, 250, 239, 'bar'],
    ['text', 262, 239, '24 V', false], ['text', 310, 239, 'VD3 = 0 V', true]
  ] }
});
</script>
</body>
</html>
